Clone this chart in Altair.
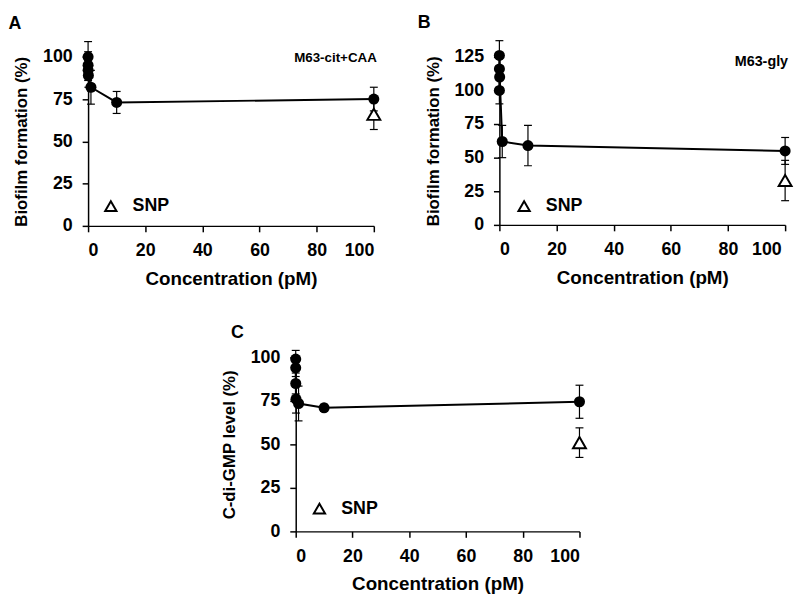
import altair as alt
import pandas as pd

conc = [0, 0.001, 0.01, 0.1, 1, 10, 100]

a_mean = [100, 95, 92, 89, 82, 73, 75]
a_err = [9, 8, 6, 7, 10, 6.5, 7]
a_snp = [66]
a_snp_err = [9]

b_mean = [100, 126, 116, 110, 62, 59, 55]
b_err = [10, 11, 8, 8, 12, 15, 10]
b_snp = [33]
b_snp_err = [15]

c_mean = [99, 94, 85, 76, 73.5, 71, 74.5]
c_err = [5, 5, 6, 8, 10, 2, 9.5]
c_snp = [51]
c_snp_err = [8.5]

snp_conc = [100]
x_ticks = [0, 20, 40, 60, 80, 100]
y_ticks_a = [0, 25, 50, 75, 100]
y_ticks_b = [0, 25, 50, 75, 100, 125]

FONT = "Liberation Sans"


def panel(mean, err, snp, snp_err, ymax, yticks, ytitle, label, cond, w, h,
          label_xy, cond_xy, leg_xy, last_offset=0, cond_size=14.5):
    df = pd.DataFrame({
        "conc": conc,
        "mean": mean,
        "lo": [m - e for m, e in zip(mean, err)],
        "hi": [m + e for m, e in zip(mean, err)],
        "order": list(range(len(conc))),
    })
    sdf = pd.DataFrame({
        "conc": snp_conc,
        "mean": snp,
        "lo": [m - e for m, e in zip(snp, snp_err)],
        "hi": [m + e for m, e in zip(snp, snp_err)],
    })

    xs = alt.Scale(domain=[0, 100])
    ys = alt.Scale(domain=[0, ymax])
    xax = alt.Axis(values=x_ticks, title="Concentration (pM)",
                   labelOffset={"condition": {"test": "datum.value == 100", "value": last_offset},
                                "value": 0})
    yax = alt.Axis(values=yticks, title=ytitle)

    def X():
        return alt.X("conc:Q", scale=xs, axis=xax)

    def Y(f):
        return alt.Y(f + ":Q", scale=ys, axis=yax)

    layers = []
    for d in (df, sdf):
        base = alt.Chart(d)
        layers.append(base.mark_rule(color="black", strokeWidth=1.2).encode(
            x=X(), y=Y("lo"), y2="hi:Q"))
        layers.append(base.mark_tick(orient="horizontal", size=8, thickness=1.2,
                                     color="black", opacity=1).encode(x=X(), y=Y("hi")))
        layers.append(base.mark_tick(orient="horizontal", size=8, thickness=1.2,
                                     color="black", opacity=1).encode(x=X(), y=Y("lo")))

    base = alt.Chart(df)
    layers.append(base.mark_line(color="black", strokeWidth=2).encode(
        x=X(), y=Y("mean"), order="order:Q"))
    layers.append(base.mark_circle(size=125, color="black", opacity=1).encode(
        x=X(), y=Y("mean")))
    layers.append(alt.Chart(sdf).mark_point(shape="triangle-up", size=170, filled=False,
                                            fill="white", stroke="black", strokeWidth=2,
                                            opacity=1).encode(x=X(), y=Y("mean")))

    leg = pd.DataFrame({"t": ["SNP"]})
    layers.append(alt.Chart(leg).mark_point(shape="triangle-up", size=130, filled=False,
                                            stroke="black", strokeWidth=2, opacity=1).encode(
        x=alt.value(leg_xy[0]), y=alt.value(leg_xy[1])))
    layers.append(alt.Chart(leg).mark_text(font=FONT, fontSize=18, fontWeight="bold",
                                           align="left", baseline="middle", color="black").encode(
        x=alt.value(leg_xy[0] + 22), y=alt.value(leg_xy[1]), text="t:N"))

    lab = pd.DataFrame({"t": [label]})
    layers.append(alt.Chart(lab).mark_text(font=FONT, fontSize=18, fontWeight="bold",
                                           align="center", baseline="middle", color="black").encode(
        x=alt.value(label_xy[0]), y=alt.value(label_xy[1]), text="t:N"))

    if cond:
        cd = pd.DataFrame({"t": [cond]})
        layers.append(alt.Chart(cd).mark_text(font=FONT, fontSize=cond_size, fontWeight="bold",
                                              align="right", baseline="middle", color="black").encode(
            x=alt.value(cond_xy[0]), y=alt.value(cond_xy[1]), text="t:N"))

    return alt.layer(*layers).properties(width=w, height=h)


A = panel(a_mean, a_err, a_snp, a_snp_err, 100, y_ticks_a, "Biofilm formation (%)",
          "A", "M63-cit+CAA", 289, 171, (-74, -33), (292, 1), (23, 151), cond_size=13.5)
B = panel(b_mean, b_err, b_snp, b_snp_err, 125, y_ticks_b, "Biofilm formation (%)",
          "B", "M63-gly", 289, 170, (-76, -34), (292, 5), (25, 151), last_offset=-4)
C = panel(c_mean, c_err, c_snp, c_snp_err, 100, y_ticks_a, "C-di-GMP level (%)",
          "C", None, 287, 176, (-59, -25), (0, 0), (24, 153))

spacer = alt.Chart(pd.DataFrame({"t": [""]})).mark_rule(opacity=0).encode(
    x=alt.value(0), x2=alt.value(100), y=alt.value(5)
).properties(width=100, height=10)

top = alt.hconcat(A, B, spacing=127, bounds="flush")
bottom = alt.hconcat(spacer, C, spacing=110, bounds="flush")
chart = alt.vconcat(top, bottom, spacing=36).configure_axis(
    grid=False,
    domainColor="black",
    domainWidth=1.5,
    tickColor="black",
    tickWidth=1.5,
    tickSize=6,
    labelFont=FONT,
    labelFontSize=18,
    labelFontWeight="bold",
    labelColor="black",
    titleFont=FONT,
    titleFontWeight="bold",
    titleColor="black",
).configure_axisX(labelPadding=10, titlePadding=10, titleFontSize=19).configure_axisY(
    labelPadding=10, titlePadding=12, titleFontSize=17
).configure_view(stroke=None).properties(padding={"left": 0, "top": 3, "right": 0, "bottom": 0})

chart.save("out.html", embed_options={"renderer": "svg", "actions": False})
